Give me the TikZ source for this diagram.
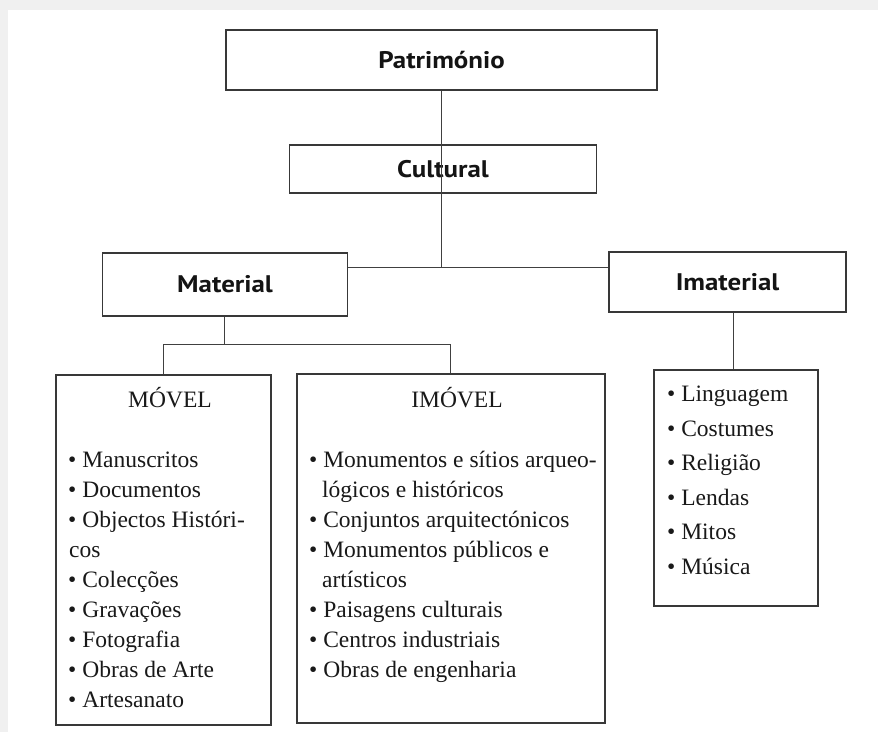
\documentclass[tikz,border=0pt]{standalone}
\usepackage{fontspec}
\setmainfont{Liberation Serif}
\newfontfamily\headfont[FakeStretch=1.12]{PT Sans}
\begin{document}
\begin{tikzpicture}[x=1pt,y=-1pt,
  box/.style={draw=black!78, line width=1.1pt, inner sep=0pt, rectangle},
  head/.style={font=\headfont\bfseries\fontsize{24}{28}\selectfont, text=black!92},
  item/.style={anchor=base west, inner sep=0pt, font=\fontsize{23.5}{30}\selectfont, text=black!90},
  ttl/.style={anchor=base, inner sep=0pt, font=\fontsize{23.5}{30}\selectfont, text=black!90},
  conn/.style={draw=black!75, line width=0.9pt}]
\useasboundingbox (0,0) rectangle (878,732);
\fill[black!6] (0,0) rectangle (878,732);
\fill[white] (8,10) rectangle (878,732);

\node[box, head, minimum width=431pt, minimum height=60pt] (pat) at (441.5,60) {Património};
\node[box, head, minimum width=307.5pt, minimum height=48pt] (cul) at (443,169) {Cultural};
\node[box, head, minimum width=245.5pt, minimum height=63pt] (mat) at (225,284.5) {Material};
\node[box, head, minimum width=237pt, minimum height=60pt] (imat) at (727.5,282) {Imaterial};
\node[box, minimum width=215pt, minimum height=350pt] (movel) at (163.5,550) {};
\node[box, minimum width=308pt, minimum height=349pt] (imovel) at (451,548.5) {};
\node[box, minimum width=164pt, minimum height=236pt] (ilist) at (736,488) {};

% connectors
\coordinate (j1) at (441,267);
\draw[conn] (pat.south -| j1) -- (cul.south -| j1) ;
\draw[conn] (cul.south -| j1) -- (j1);
\draw[conn] (mat.east |- j1) -- (imat.west |- j1);
\coordinate (j2) at (224,344);
\draw[conn] (mat.south -| j2) -- (j2);
\draw[conn] (movel.north -| 163,0) -- (163,344) -- (450,344) -- (imovel.north -| 450,0);
\draw[conn] (imat.south -| 733,0) -- (ilist.north -| 733,0);

% MOVEL
\node[ttl] (t1) at (170,407) {MÓVEL};
\node[item] (m1) at (68,467) {• Manuscritos};
\node[item] (m2) at (68,497) {• Documentos};
\node[item] (m3) at (68,527) {• Objectos Históri-};
\node[item] (m4) at (69,557) {cos};
\node[item] (m5) at (68,587) {• Colecções};
\node[item] (m6) at (68,617) {• Gravações};
\node[item] (m7) at (68,647) {• Fotografia};
\node[item] (m8) at (68,677) {• Obras de Arte};
\node[item] (m9) at (68,707) {• Artesanato};

% IMOVEL
\node[ttl] (t2) at (457,407) {IMÓVEL};
\node[item] (i1) at (309,467) {• Monumentos e sítios arqueo-};
\node[item] (i2) at (322,497) {lógicos e históricos};
\node[item] (i3) at (309,527) {• Conjuntos arquitectónicos};
\node[item] (i4) at (309,557) {• Monumentos públicos e};
\node[item] (i5) at (322,587) {artísticos};
\node[item] (i6) at (309,617) {• Paisagens culturais};
\node[item] (i7) at (309,647) {• Centros industriais};
\node[item] (i8) at (309,677) {• Obras de engenharia};

% Imaterial list
\node[item] (l1) at (667,401.7) {• Linguagem};
\node[item] (l2) at (667,436) {• Costumes};
\node[item] (l3) at (667,470.5) {• Religião};
\node[item] (l4) at (667,505) {• Lendas};
\node[item] (l5) at (667,539.4) {• Mitos};
\node[item] (l6) at (667,574) {• Música};
\end{tikzpicture}
\end{document}
